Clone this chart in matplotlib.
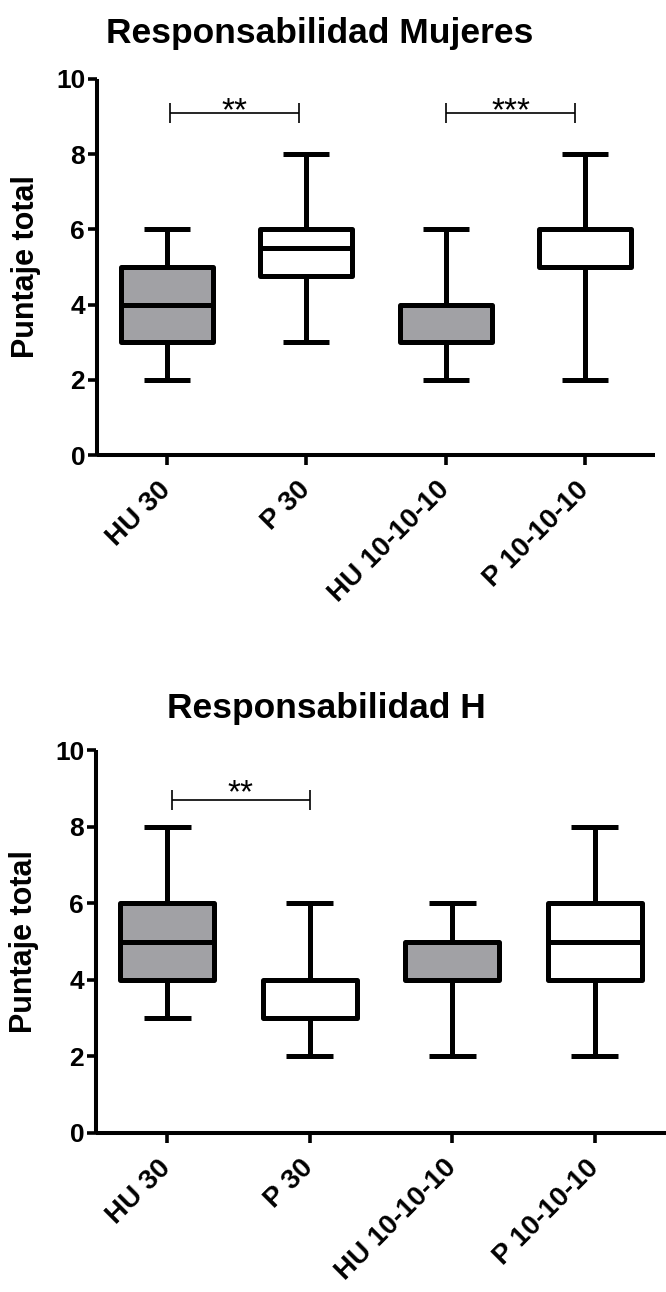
import matplotlib
matplotlib.use('Agg')
import matplotlib.pyplot as plt
from matplotlib.transforms import ScaledTranslation

plt.rcParams['font.family'] = ['Liberation Sans', 'DejaVu Sans']

# ---------------- data ----------------
categories = ['HU 30', 'P 30', 'HU 10-10-10', 'P 10-10-10']
fills = ['#a1a1a5', '#ffffff', '#a1a1a5', '#ffffff']

# Panel 1: Responsabilidad Mujeres
muj_whislo = [2, 3, 2, 2]
muj_q1 = [3, 4.75, 3, 5]
muj_med = [4, 5.5, 4, 6]
muj_q3 = [5, 6, 4, 6]
muj_whishi = [6, 8, 6, 8]
muj_sig_x1 = [1.02, 3.0]
muj_sig_x2 = [1.95, 3.93]
muj_sig_y = [9.1, 9.1]
muj_star_y = [8.91, 8.91]
muj_sig_text = ['**', '***']

# Panel 2: Responsabilidad H
h_whislo = [3, 2, 2, 2]
h_q1 = [4, 3, 4, 4]
h_med = [5, 3, 5, 5]
h_q3 = [6, 4, 5, 6]
h_whishi = [8, 6, 6, 8]
h_sig_x1 = [1.03]
h_sig_x2 = [2.0]
h_sig_y = [8.7]
h_star_y = [8.64]
h_sig_text = ['**']

yticks = [0, 2, 4, 6, 8, 10]

# ---------------- drawing ----------------
fig = plt.figure(figsize=(6.66, 12.92), dpi=100)

LW = 3.6


def panel(rect, whislo, q1, med, q3, whishi, sx1, sx2, sy, ty, stext):
    ax = fig.add_axes(rect)
    stats = []
    for c, a, b, m, d, e in zip(categories, whislo, q1, med, q3, whishi):
        stats.append(dict(label=c, whislo=a, q1=b, med=m, q3=d, whishi=e))
    pos = list(range(1, len(categories) + 1))
    bp = ax.bxp(stats, positions=pos, widths=0.66, capwidths=0.33,
                showfliers=False, patch_artist=True,
                boxprops=dict(linewidth=LW, edgecolor='black'),
                whiskerprops=dict(linewidth=LW, color='black', solid_capstyle='butt'),
                capprops=dict(linewidth=LW, color='black', solid_capstyle='butt'),
                medianprops=dict(linewidth=LW, color='black', solid_capstyle='butt'))
    for patch, f in zip(bp['boxes'], fills):
        patch.set_facecolor(f)
        patch.set_joinstyle('round')
    for x1, x2, y, yt, t in zip(sx1, sx2, sy, ty, stext):
        ax.errorbar([(x1 + x2) / 2], [y], xerr=[(x2 - x1) / 2], fmt='none',
                    ecolor='black', elinewidth=1.2, capsize=7.5, capthick=1.2)
        ax.text((x1 + x2) / 2, yt, t, ha='center', va='baseline',
                fontsize=24, color='black')
    ax.set_xlim(0.5, 4.5)
    ax.set_ylim(0, 10)
    ax.set_yticks(yticks)
    ax.set_xticks(pos)
    ax.set_xticklabels(categories, rotation=45, ha='right', va='center',
                       rotation_mode='anchor', fontsize=20, fontweight='bold')
    shift = ScaledTranslation(4 / 100, 0, fig.dpi_scale_trans)
    for lab in ax.get_xticklabels():
        lab.set_transform(lab.get_transform() + shift)
    for lab in ax.get_yticklabels():
        lab.set_fontsize(19)
        lab.set_fontweight('bold')
    for s in ['top', 'right']:
        ax.spines[s].set_visible(False)
    for s in ['left', 'bottom']:
        ax.spines[s].set_linewidth(2.9)
        ax.spines[s].set_capstyle('butt')
    ax.tick_params(axis='y', length=6.5, width=2.6, pad=2)
    ax.tick_params(axis='x', length=7.2, width=2.6, pad=15)
    ax.set_ylabel('Puntaje total', fontsize=22, fontweight='bold')
    ax.yaxis.set_label_coords(-0.10, 0.5)
    return ax


ax1 = panel([97 / 666, 1 - 455 / 1292, 558 / 666, 376 / 1292],
            muj_whislo, muj_q1, muj_med, muj_q3, muj_whishi,
            muj_sig_x1, muj_sig_x2, muj_sig_y, muj_star_y, muj_sig_text)
ax2 = panel([96 / 666, 1 - 1133 / 1292, 570 / 666, 383 / 1292],
            h_whislo, h_q1, h_med, h_q3, h_whishi,
            h_sig_x1, h_sig_x2, h_sig_y, h_star_y, h_sig_text)

fig.text(320 / 666, 1 - 43 / 1292, 'Responsabilidad Mujeres', ha='center',
         va='baseline', fontsize=25.5, fontweight='bold')
fig.text(326 / 666, 1 - 718 / 1292, 'Responsabilidad H', ha='center',
         va='baseline', fontsize=25.5, fontweight='bold')

fig.savefig('out.png', dpi=100)
